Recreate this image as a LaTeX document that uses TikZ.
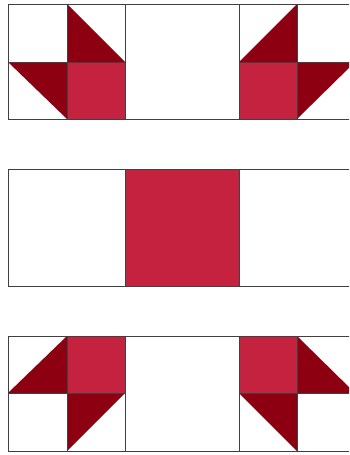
\documentclass[tikz,border=0pt]{standalone}
\usetikzlibrary{positioning}

\definecolor{quiltdark}{RGB}{140,0,18}
\definecolor{quiltmid}{RGB}{197,34,64}

\tikzset{
  darkpatch/.style={fill=quiltdark},
  midpatch/.style={fill=quiltmid},
  seam/.style={draw=black!75, line width=0.8pt}
}

\begin{document}
\begin{tikzpicture}[x=1pt,y=-1pt]

\useasboundingbox (0,0) rectangle (349,455);
\clip (0,0) rectangle (349,455);

% top row
\fill[darkpatch] (67,4) -- (67,62) -- (125,62) -- cycle;
\fill[darkpatch] (8,62) -- (67,62) -- (67,119) -- cycle;
\fill[midpatch] (67,62) rectangle (125,119);
\fill[darkpatch] (297,4) -- (297,62) -- (239,62) -- cycle;
\fill[midpatch] (239,62) rectangle (297,119);
\fill[darkpatch] (297,62) -- (355,62) -- (297,119) -- cycle;

% middle row
\fill[midpatch] (125,169) rectangle (239,286);

% bottom row
\fill[darkpatch] (8,393) -- (67,336) -- (67,393) -- cycle;
\fill[midpatch] (67,336) rectangle (125,393);
\fill[darkpatch] (67,393) -- (125,393) -- (67,451) -- cycle;
\fill[midpatch] (239,336) rectangle (297,393);
\fill[darkpatch] (297,336) -- (355,393) -- (297,393) -- cycle;
\fill[darkpatch] (239,393) -- (297,393) -- (297,451) -- cycle;

% seams
\foreach \t/\b in {4/119, 169/286, 336/451} {
  \draw[seam] (8,\t) rectangle (355,\b);
  \draw[seam] (125,\t) -- (125,\b);
  \draw[seam] (239,\t) -- (239,\b);
}
\foreach \t/\m/\b in {4/62/119, 336/393/451} {
  \draw[seam] (67,\t) -- (67,\b);
  \draw[seam] (297,\t) -- (297,\b);
  \draw[seam] (8,\m) -- (125,\m);
  \draw[seam] (239,\m) -- (355,\m);
}

\end{tikzpicture}
\end{document}
